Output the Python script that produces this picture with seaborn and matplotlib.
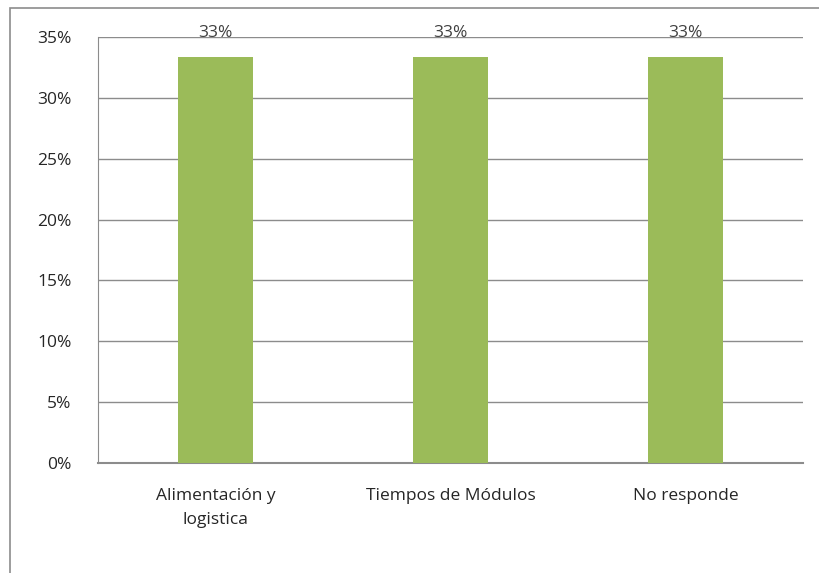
import numpy as np
import pandas as pd
import seaborn as sns
import matplotlib
matplotlib.use("Agg")
import matplotlib.pyplot as plt
from matplotlib.patches import Rectangle
from matplotlib.ticker import PercentFormatter

categories = ["Alimentación y\nlogistica", "Tiempos de Módulos", "No responde"]
values = [33.33, 33.33, 33.33]
labels = ["33%", "33%", "33%"]

df = pd.DataFrame({"cat": categories, "val": values})

sns.set_style("white")
plt.rcParams['font.family'] = ['Open Sans', 'DejaVu Sans']

fig = plt.figure(figsize=(8.2, 5.73), dpi=100)
ax = fig.add_axes([98 / 820, 1 - 463 / 573, 705 / 820, 426 / 573])

sns.barplot(data=df, x="cat", y="val", color="#9bbb59", saturation=1,
            width=0.315, linewidth=0, ax=ax, zorder=3)

ax.set_ylim(0, 35)
ax.set_yticks(np.arange(0, 36, 5))
ax.yaxis.set_major_formatter(PercentFormatter(decimals=0))
ax.grid(axis="y", color="#8c8c8c", linewidth=1, zorder=0)
ax.set_axisbelow(True)
for s in ["top", "right"]:
    ax.spines[s].set_visible(False)
ax.spines["left"].set_color("#8c8c8c")
ax.spines["bottom"].set_color("#8c8c8c")
ax.spines["bottom"].set_linewidth(1.5)
ax.set_xlabel("")
ax.set_ylabel("")
ax.tick_params(axis="y", length=0, pad=19, labelsize=12.5, labelcolor="#262626")
ax.tick_params(axis="x", length=0, pad=18, labelsize=12.5, labelcolor="#262626")
for t in ax.get_xticklabels():
    t.set_linespacing(1.65)

ax.bar_label(ax.containers[0], labels=labels, padding=12, fontsize=12.5,
             color="#404040")

# outer chart border
fig.patches.append(Rectangle((10 / 820, -0.05), 1.1, 1 - 8 / 573 + 0.05,
                             transform=fig.transFigure, fill=False,
                             edgecolor="#8c8c8c", linewidth=1.2))

fig.savefig("out.png", dpi=100)
